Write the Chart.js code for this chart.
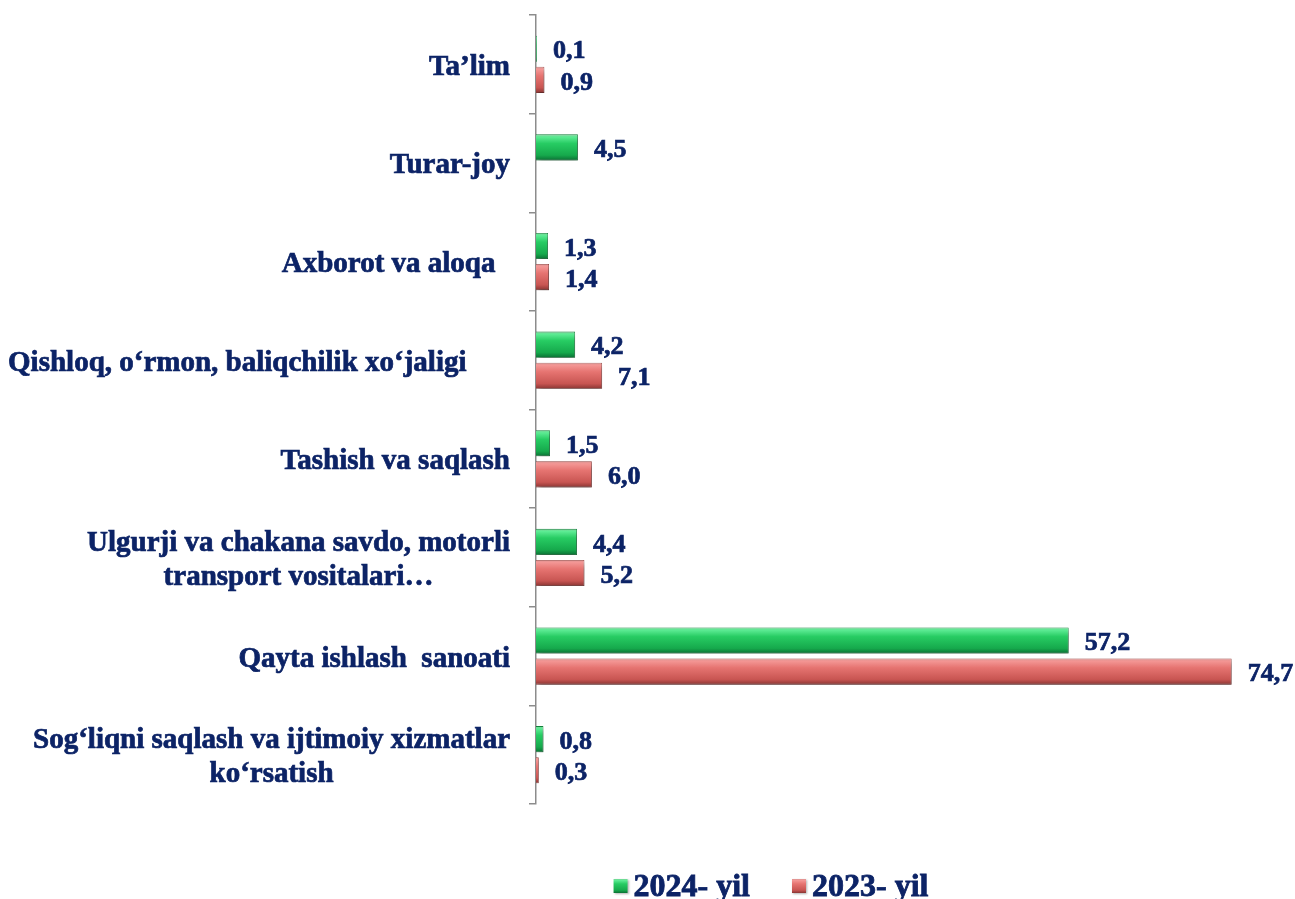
<!DOCTYPE html>
<html><head><meta charset="utf-8">
<script src="https://cdn.jsdelivr.net/npm/chart.js@4.4.1/dist/chart.umd.min.js"></script>
<style>html,body{margin:0;padding:0;background:#fff;}#wrap{width:1295px;height:899px;position:relative;}</style>
</head><body><div id="wrap"><canvas id="c" width="1295" height="899"></canvas></div>
<script>
const categories = [
  ["Ta’lim"],
  ["Turar-joy"],
  ["Axborot va aloqa  "],
  ["Qishloq, o‘rmon, baliqchilik xo‘jaligi      "],
  ["Tashish va saqlash"],
  ["Ulgurji va chakana savdo, motorli", "transport vositalari…"],
  ["Qayta ishlash  sanoati"],
  ["Sog‘liqni saqlash va ijtimoiy xizmatlar", "ko‘rsatish"]
];
const series2024 = [0.1, 4.5, 1.3, 4.2, 1.5, 4.4, 57.2, 0.8];
const series2023 = [0.9, null, 1.4, 7.1, 6.0, 5.2, 74.7, 0.3];
const seriesNames = ["2024- yil", "2023- yil"];

const NAVY = '#0c2366';
const CAT_PCT = 0.63, BAR_PCT = 0.84;
const GREEN_STOPS = [[0,'#79d497'],[0.1,'#5ceb93'],[0.35,'#27cc63'],[0.8,'#16a94c'],[1,'#0b6f34']];
const RED_STOPS = [[0,'#dc9492'],[0.1,'#f39694'],[0.35,'#e67471'],[0.8,'#c85552'],[1,'#893533']];

function fillGrad(ctx, y0, y1, stops){
  const g = ctx.createLinearGradient(0, y0, 0, y1);
  stops.forEach(s => g.addColorStop(s[0], s[1]));
  return g;
}
function barGradient(context, stops){
  const chart = context.chart;
  const ys = chart.scales && chart.scales.y;
  if (!ys || context.type !== 'data' || !chart.chartArea) return stops[2][1];
  const n = categories.length;
  const catH = (ys.bottom - ys.top) / n;
  const size = catH * CAT_PCT, chunk = size / 2;
  const center = ys.getPixelForValue(context.dataIndex) - size / 2 + chunk * context.datasetIndex + chunk / 2;
  const h = chunk * BAR_PCT;
  return fillGrad(chart.ctx, center - h / 2, center + h / 2, stops);
}
function fmt(v){ return v.toFixed(1).replace('.', ','); }
function boldText(ctx, s, x, y, sw){
  ctx.fillText(s, x, y);
  ctx.lineWidth = sw;
  ctx.strokeStyle = NAVY;
  ctx.strokeText(s, x, y);
}

const decorPlugin = {
  id: 'decor',
  beforeDatasetsDraw(chart){
    const ctx = chart.ctx;
    ctx.save();
    ctx.shadowColor = 'rgba(0,0,0,0.4)';
    ctx.shadowBlur = 5;
    ctx.shadowOffsetX = 2;
    ctx.shadowOffsetY = 4;
  },
  afterDatasetsDraw(chart){
    const ctx = chart.ctx;
    ctx.restore();
    ctx.save();
    ctx.font = 'bold 26px "Liberation Serif", "Times New Roman", serif';
    ctx.fillStyle = NAVY;
    ctx.textAlign = 'left';
    ctx.textBaseline = 'middle';
    chart.data.datasets.forEach((ds, di) => {
      const meta = chart.getDatasetMeta(di);
      meta.data.forEach((el, i) => {
        const v = ds.data[i];
        if (v === null || v === undefined) return;
        boldText(ctx, fmt(v), el.x + 16, el.y + 3, 0.7);
      });
    });
    ctx.restore();
  },
  afterDraw(chart){
    const ctx = chart.ctx;
    const ys = chart.scales.y;
    const area = chart.chartArea;
    ctx.save();
    ctx.font = 'bold 29px "Liberation Serif", "Times New Roman", serif';
    ctx.fillStyle = NAVY;
    ctx.textAlign = 'center';
    ctx.textBaseline = 'middle';
    const right = area.left - 26;
    const lineH = 34;
    categories.forEach((lines, i) => {
      const cy = ys.getPixelForValue(i) + 3;
      const w = Math.max(...lines.map(l => ctx.measureText(l).width));
      const cx = right - w / 2;
      lines.forEach((l, j) => {
        const y = cy + (j - (lines.length - 1) / 2) * lineH;
        boldText(ctx, l, cx, y, 0.7);
      });
    });
    ctx.restore();
    // legend
    ctx.save();
    ctx.font = 'bold 32px "Liberation Serif", "Times New Roman", serif';
    ctx.textBaseline = 'middle';
    ctx.textAlign = 'left';
    const box = 14, gapBox = 6, gapItem = 42;
    const widths = seriesNames.map(s => ctx.measureText(s).width);
    const total = widths.reduce((a, w) => a + box + gapBox + w, 0) + gapItem * (seriesNames.length - 1);
    const legendCenter = 771, ly = 886;
    let x = legendCenter - total / 2;
    const stopsArr = [GREEN_STOPS, RED_STOPS];
    seriesNames.forEach((s, k) => {
      ctx.shadowColor = 'rgba(0,0,0,0.3)';
      ctx.shadowBlur = 2; ctx.shadowOffsetX = 1; ctx.shadowOffsetY = 1;
      ctx.fillStyle = fillGrad(ctx, ly - box / 2, ly + box / 2, stopsArr[k]);
      ctx.fillRect(x, ly - box / 2, box, box);
      ctx.shadowColor = 'transparent';
      ctx.fillStyle = NAVY;
      boldText(ctx, s, x + box + gapBox, ly + 2, 0.8);
      x += box + gapBox + widths[k] + gapItem;
    });
    ctx.restore();
  }
};

new Chart(document.getElementById('c'), {
  type: 'bar',
  data: {
    labels: categories,
    datasets: [
      { label: seriesNames[0], data: series2024,
        backgroundColor: ctx => barGradient(ctx, GREEN_STOPS),
        borderColor: '#12803a', borderWidth: 0.8,
        categoryPercentage: CAT_PCT, barPercentage: BAR_PCT },
      { label: seriesNames[1], data: series2023,
        backgroundColor: ctx => barGradient(ctx, RED_STOPS),
        borderColor: '#93403d', borderWidth: 0.8,
        categoryPercentage: CAT_PCT, barPercentage: BAR_PCT }
    ]
  },
  options: {
    indexAxis: 'y',
    responsive: false,
    animation: false,
    devicePixelRatio: 1,
    layout: { padding: { left: 529, right: 14, top: 15, bottom: 95 } },
    plugins: { legend: { display: false }, tooltip: { enabled: false } },
    scales: {
      x: { display: false, min: 0, max: 80 },
      y: {
        offset: true,
        grid: { display: true, offset: true, drawOnChartArea: false, drawTicks: true, tickLength: 7, color: '#8c8c8c', lineWidth: 1.5 },
        border: { display: true, color: '#8c8c8c', width: 1.5 },
        ticks: { display: false }
      }
    }
  },
  plugins: [decorPlugin]
});
</script></body></html>
